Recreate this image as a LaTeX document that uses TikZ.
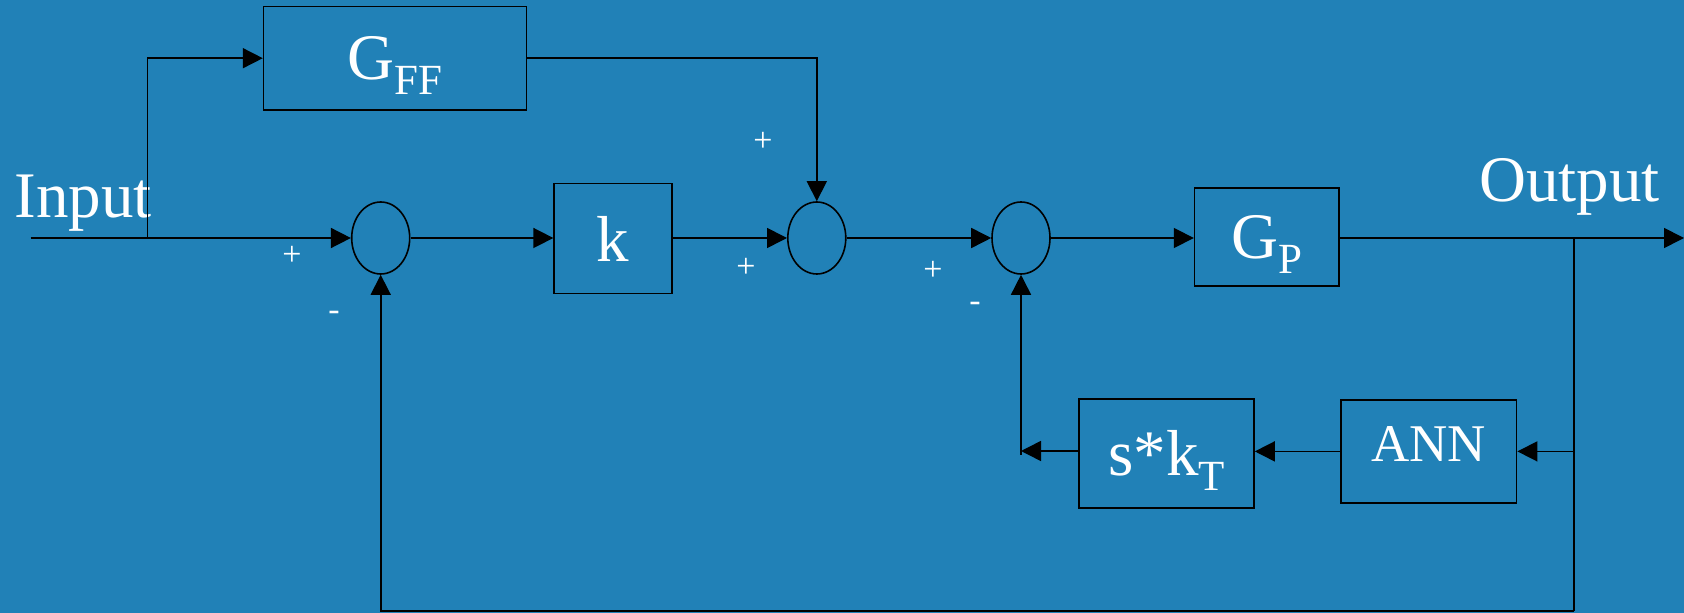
\documentclass[tikz,border=0pt]{standalone}
\usepackage{fontspec}
\setmainfont{Liberation Serif}
\usetikzlibrary{arrows.meta,shapes.geometric}
\definecolor{bgblue}{RGB}{33,129,183}
\newcommand{\sbs}[1]{\raisebox{-7.5pt}{\fontsize{21.5pt}{22pt}\selectfont #1}}
\begin{document}
\begin{tikzpicture}[x=0.5pt,y=-0.5pt,
  blk/.style={draw=black, line width=0.8pt, inner sep=0pt, text=white,
    font=\fontsize{32.5pt}{34pt}\selectfont, text depth=0pt},
  sumj/.style={draw=black, ellipse, line width=0.8pt, minimum width=29pt,
    minimum height=36pt, inner sep=0pt},
  wire/.style={line width=0.8pt, draw=black},
  arr/.style={wire, -{Triangle[length=10pt,width=10pt]}},
  sgn/.style={text=white, font=\fontsize{17pt}{17pt}\selectfont, inner sep=0pt},
  lbl/.style={text=white, font=\fontsize{32.5pt}{34pt}\selectfont, inner sep=0pt, anchor=base west}]
\fill[bgblue] (0,0) rectangle (1684,613);
\useasboundingbox (0,0) rectangle (1684,613);

% blocks
\node[blk, minimum width=131.4pt, minimum height=51.85pt] (gff) at (395,58.2) {G\sbs{FF}};
\node[blk, minimum width=58.85pt, minimum height=55pt] (k) at (613,238.5) {k};
\node[blk, minimum width=72.2pt, minimum height=49pt] (gp) at (1266.8,237) {G\sbs{P}\hspace{17pt}};
\node[blk, minimum width=87.5pt, minimum height=54.35pt] (skt) at (1166.5,453.4) {s*k\sbs{T}\hspace{9.5pt}};
\node[blk, minimum width=87.8pt, minimum height=51.65pt, font=\fontsize{26.5pt}{28pt}\selectfont, text height=10.3pt] (ann) at (1428.8,451.4) {ANN\hspace{9pt}};

% summing junctions
\node[sumj] (s1) at (380.7,238) {};
\node[sumj] (s2) at (816.8,238) {};
\node[sumj] (s3) at (1021,238) {};

% labels
\node[lbl] (inp) at (14,218) {Input};
\node[lbl] (outp) at (1479,201.7) {Output};

% signs
\node[sgn] (p1) at (292,256) {+};
\node[sgn] (m1) at (334,316) {-};
\node[sgn] (p2) at (763,142) {+};
\node[sgn] (p3) at (746,268) {+};
\node[sgn] (p4) at (933,271) {+};
\node[sgn] (m2) at (975,307) {-};

% coordinates
\coordinate (in) at (30.7,238);
\coordinate (br) at (147.5,238);
\coordinate (out) at (1684,238);
\coordinate (tap) at (1574,238);
\coordinate (bot) at (1574,611);
\coordinate (fbk) at (1021,451);
\coordinate (fbk2) at (1021,455);

% connectors
\draw[arr] (in) -- (s1.west);
\draw[arr] (br) |- (gff.west);
\draw[arr] (s1.east) -- (s1.east -| k.west);
\draw[arr] (k.east |- s2.west) -- (s2.west);
\draw[arr] (gff.east) -| (s2.north);
\draw[arr] (s2.east) -- (s3.west);
\draw[arr] (s3.east) -- (s3.east -| gp.west);
\draw[arr] (gp.east |- out) -- (out);
\draw[wire] (tap) -- (bot);
\draw[arr] (bot) -| (s1.south);
\draw[arr] (tap |- ann.east) -- (ann.east);
\draw[arr] (ann.west) -- (ann.west -| skt.east);
\draw[arr] (skt.west |- fbk) -- (fbk);
\draw[arr] (fbk2) -- (s3.south);
\end{tikzpicture}
\end{document}
